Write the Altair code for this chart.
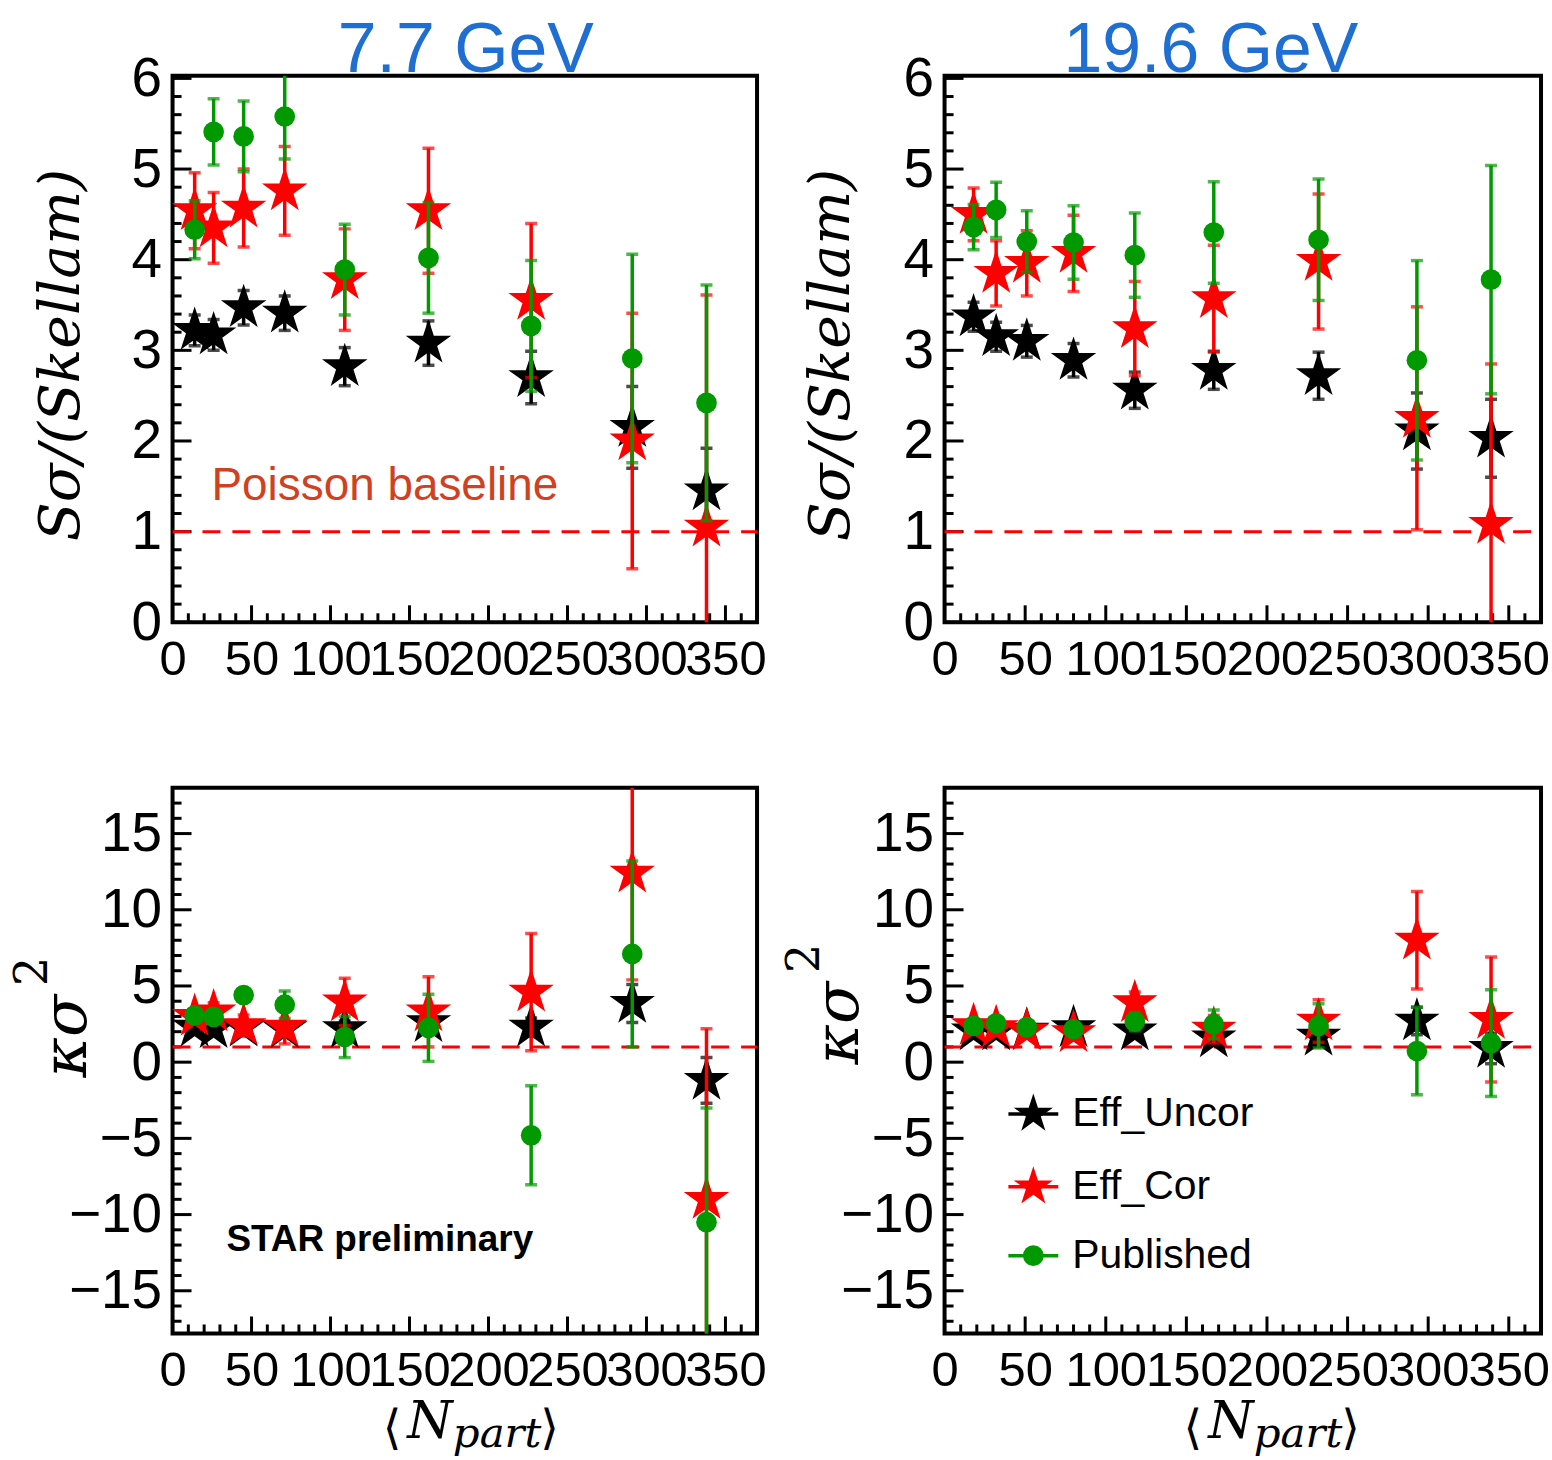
import altair as alt
import pandas as pd

# ---------------- data ----------------
series_names = ["Eff_Uncor", "Eff_Cor", "Published"]
series_colors = ["#000000", "#ff0000", "#009900"]

npart_77 = [14, 26, 45, 71, 109, 162, 227, 291, 338]
npart_196 = [18, 32, 51, 80, 118, 167, 232, 293, 339]

# S*sigma/Skellam, 7.7 GeV
s77_uncor = [3.22, 3.17, 3.47, 3.41, 2.82, 3.08, 2.70, 2.15, 1.45]
s77_uncor_err = [0.17, 0.17, 0.19, 0.19, 0.21, 0.245, 0.29, 0.45, 0.47]
s77_cor = [4.54, 4.35, 4.57, 4.76, 3.78, 4.54, 3.55, 2.00, 1.05]
s77_cor_err = [0.42, 0.39, 0.43, 0.49, 0.56, 0.69, 0.85, 1.41, 2.56]
s77_pub = [4.33, 5.41, 5.36, 5.58, 3.89, 4.02, 3.27, 2.91, 2.42]
s77_pub_err = [0.32, 0.365, 0.39, 0.47, 0.50, 0.61, 0.72, 1.15, 1.30]

# S*sigma/Skellam, 19.6 GeV
s196_uncor = [3.37, 3.15, 3.10, 2.89, 2.56, 2.78, 2.72, 2.11, 2.03]
s196_uncor_err = [0.16, 0.16, 0.175, 0.185, 0.20, 0.21, 0.26, 0.42, 0.43]
s196_cor = [4.50, 3.85, 3.96, 4.07, 3.24, 3.57, 3.98, 2.25, 1.08]
s196_cor_err = [0.29, 0.36, 0.36, 0.42, 0.52, 0.59, 0.745, 1.23, 1.77]
s196_pub = [4.36, 4.55, 4.20, 4.19, 4.05, 4.30, 4.22, 2.89, 3.78]
s196_pub_err = [0.25, 0.305, 0.34, 0.405, 0.465, 0.56, 0.67, 1.10, 1.26]

# kappa*sigma^2, 7.7 GeV
k77_uncor = [2.3, 2.2, 2.3, 2.2, 2.2, 2.6, 2.3, 3.85, -1.2]
k77_uncor_err = [0.3, 0.3, 0.35, 0.4, 0.5, 0.6, 0.6, 1.25, 1.5]
k77_cor = [3.0, 3.3, 2.4, 2.3, 3.95, 3.3, 4.6, 12.4, -9.0]
k77_cor_err = [0.5, 0.6, 0.7, 1.1, 1.55, 2.3, 3.85, 7.0, 11.2]
k77_pub = [3.07, 2.97, 4.4, 3.77, 1.65, 2.25, -4.8, 7.1, -10.5]
k77_pub_err = [0.3, 0.35, 0.4, 0.9, 1.35, 2.2, 3.25, 6.1, 7.5]

# kappa*sigma^2, 19.6 GeV
k196_uncor = [2.05, 2.05, 2.1, 2.27, 2.05, 1.6, 1.7, 2.7, 0.9]
k196_uncor_err = [0.2, 0.2, 0.25, 0.3, 0.4, 0.5, 0.6, 0.9, 1.0]
k196_cor = [2.4, 2.27, 2.05, 1.94, 3.9, 2.16, 2.7, 8.0, 2.8]
k196_cor_err = [0.3, 0.35, 0.4, 0.5, 0.7, 0.9, 1.4, 3.2, 4.1]
k196_pub = [2.38, 2.55, 2.3, 2.16, 2.66, 2.48, 2.38, 0.73, 1.25]
k196_pub_err = [0.3, 0.3, 0.35, 0.4, 0.6, 0.95, 1.45, 2.87, 3.5]

baseline_value = [1]

x_domain = [0, 370]
x_major = [0, 50, 100, 150, 200, 250, 300, 350]
x_minor = [v for v in range(0, 371, 10) if v % 50]
s_domain = [0, 6.03]
s_major = [0, 1, 2, 3, 4, 5, 6]
s_minor = [round(i * 0.2, 1) for i in range(31) if i % 5]
k_domain = [-17.8, 18.0]
k_major = [-15, -10, -5, 0, 5, 10, 15]
k_minor = [v for v in range(-17, 18) if v % 5]

STAR = ("M0,-1L0.2245,-0.309L0.9511,-0.309L0.3633,0.118L0.5878,0.809L0,0.382"
        "L-0.5878,0.809L-0.3633,0.118L-0.9511,-0.309L-0.2245,-0.309Z")

LABEL_FONT = "Liberation Sans"
MATH_FONT = "DejaVu Serif"
STAR_SIZE = 2300
DOT_SIZE = 430


def make_df(npart, triples):
    rows = []
    for name, vals, errs in triples:
        for n, v, e in zip(npart, vals, errs):
            rows.append({"series": name, "npart": n, "val": v, "lo": v - e, "hi": v + e})
    return pd.DataFrame(rows)


def txt(label, x, y, size, font=LABEL_FONT, color="black", align="center",
        baseline="alphabetic", angle=0, style="normal", weight="normal"):
    return alt.Chart(pd.DataFrame({"t": [label]})).mark_text(
        font=font, fontSize=size, color=color, align=align, baseline=baseline,
        angle=angle, fontStyle=style, fontWeight=weight
    ).encode(x=alt.value(x), y=alt.value(y), text="t:N")


def panel(df, ydom, ymaj, ymin, w, h, extra):
    xs = alt.Scale(domain=x_domain, nice=False, zero=False)
    ys = alt.Scale(domain=ydom, nice=False, zero=False)
    xaxis = alt.Axis(values=x_major, labelOverlap=False, labelFlush=False, labelPadding=13,
                     labelFontSize=49, title=None, ticks=False, domain=False, grid=False)
    yaxis = alt.Axis(values=ymaj, labelOverlap=False, labelFlush=False, labelPadding=11,
                     labelFontSize=55, title=None, ticks=False, domain=False, grid=False)

    def X(f):
        return alt.X(f, scale=xs, axis=xaxis)

    def Y(f):
        return alt.Y(f, scale=ys, axis=yaxis)

    layers = []

    def yrule(vals, length):
        return alt.Chart(pd.DataFrame({"v": vals})).mark_rule(color="black", strokeWidth=3).encode(
            y=Y("v:Q"), x=alt.value(0), x2=alt.value(length))

    def xrule(vals, length):
        return alt.Chart(pd.DataFrame({"v": vals})).mark_rule(color="black", strokeWidth=3).encode(
            x=X("v:Q"), y=alt.value(h), y2=alt.value(h - length))

    layers += [yrule(ymaj, 19), yrule(ymin, 9), xrule(x_major, 17), xrule(x_minor, 9)]

    layers.append(alt.Chart(pd.DataFrame({"v": baseline_value})).mark_rule(
        color="#ff0000", strokeWidth=3, strokeDash=[18, 12]).encode(
        y=Y("v:Q"), x=alt.value(0), x2=alt.value(w)))

    for name, color in zip(series_names, series_colors):
        base = alt.Chart(df[df.series == name])
        layers.append(base.mark_rule(color=color, strokeWidth=3.5, clip=True).encode(
            x=X("npart:Q"), y=Y("lo:Q"), y2="hi:Q"))
        for f in ["lo", "hi"]:
            layers.append(base.mark_tick(color=color, orient="horizontal", size=12,
                                         thickness=3.5, clip=True).encode(
                x=X("npart:Q"), y=Y(f + ":Q")))
        if name == "Published":
            mk = base.mark_point(shape="circle", size=DOT_SIZE, filled=True, opacity=1,
                                 color=color, strokeWidth=0)
        else:
            mk = base.mark_point(shape=STAR, size=STAR_SIZE, filled=True, opacity=1,
                                 color=color, strokeWidth=0)
        layers.append(mk.encode(x=X("npart:Q"), y=Y("val:Q")))

    layers += extra
    return alt.layer(*layers).properties(width=w, height=h)


df_s77 = make_df(npart_77, [(series_names[0], s77_uncor, s77_uncor_err),
                            (series_names[1], s77_cor, s77_cor_err),
                            (series_names[2], s77_pub, s77_pub_err)])
df_s196 = make_df(npart_196, [(series_names[0], s196_uncor, s196_uncor_err),
                              (series_names[1], s196_cor, s196_cor_err),
                              (series_names[2], s196_pub, s196_pub_err)])
df_k77 = make_df(npart_77, [(series_names[0], k77_uncor, k77_uncor_err),
                            (series_names[1], k77_cor, k77_cor_err),
                            (series_names[2], k77_pub, k77_pub_err)])
df_k196 = make_df(npart_196, [(series_names[0], k196_uncor, k196_uncor_err),
                              (series_names[1], k196_cor, k196_cor_err),
                              (series_names[2], k196_pub, k196_pub_err)])

WL, WR, HT, HB = 586, 598, 548, 547

anchor = alt.Chart(pd.DataFrame({"a": [0]})).mark_rule(opacity=0).encode(
    x=alt.value(-171), x2=alt.value(-170), y=alt.value(-72), y2=alt.value(-71))

BLUE = "#1f6fd2"


def xtitle(dx):
    return [
        txt("\u27e8", 220 + dx, 658, 48, font=MATH_FONT),
        txt("N", 258 + dx, 652, 52, font=MATH_FONT, style="italic"),
        txt("part", 281 + dx, 661, 42, font=MATH_FONT, style="italic", align="left"),
        txt("\u27e9", 378 + dx, 658, 48, font=MATH_FONT),
    ]


tl_extra = [
    anchor,
    txt("7.7 GeV", 294, -4, 70, color=BLUE),
    txt("S\u03c3/(Skellam)", -111, 280, 57, font=MATH_FONT, style="italic",
        angle=270, baseline="middle"),
    txt("Poisson baseline", 39, 425, 46, color="#d0421f", align="left"),
]
tr_extra = [
    txt("19.6 GeV", 267, -4, 70, color=BLUE),
    txt("S\u03c3/(Skellam)", -113, 280, 57, font=MATH_FONT, style="italic",
        angle=270, baseline="middle"),
]
bl_extra = [
    txt("\u03ba\u03c3", -106, 249, 62, font=MATH_FONT, style="italic", angle=270, baseline="middle"),
    txt("2", -140, 184, 46, font=MATH_FONT, angle=270, baseline="middle"),
    txt("STAR preliminary", 54, 464, 37, weight="bold", align="left"),
] + xtitle(0)

legend_rows = [327, 400, 469]
br_extra = [
    txt("\u03ba\u03c3", -106, 236, 62, font=MATH_FONT, style="italic", angle=270, baseline="middle"),
    txt("2", -140, 171, 46, font=MATH_FONT, angle=270, baseline="middle"),
] + xtitle(29)
for name, color, ly in zip(series_names, series_colors, legend_rows):
    ldf = pd.DataFrame({"t": [name]})
    br_extra.append(alt.Chart(ldf).mark_rule(color=color, strokeWidth=3.5).encode(
        x=alt.value(64), x2=alt.value(114), y=alt.value(ly)))
    if name == "Published":
        br_extra.append(alt.Chart(ldf).mark_point(shape="circle", size=DOT_SIZE, filled=True, opacity=1,
                                                  color=color, strokeWidth=0).encode(
            x=alt.value(89), y=alt.value(ly)))
    else:
        br_extra.append(alt.Chart(ldf).mark_point(shape=STAR, size=1700, filled=True, opacity=1,
                                                  color=color, strokeWidth=0).encode(
            x=alt.value(89), y=alt.value(ly)))
    br_extra.append(alt.Chart(ldf).mark_text(font=LABEL_FONT, fontSize=41, align="left",
                                             baseline="middle", color="black").encode(
        x=alt.value(128), y=alt.value(ly), text="t:N"))

tl = panel(df_s77, s_domain, s_major, s_minor, WL, HT, tl_extra)
tr = panel(df_s196, s_domain, s_major, s_minor, WR, HT, tr_extra)
bl = panel(df_k77, k_domain, k_major, k_minor, WL, HB, bl_extra)
br = panel(df_k196, k_domain, k_major, k_minor, WR, HB, br_extra)

chart = alt.concat(
    tl, tr, bl, br, columns=2,
    spacing=alt.RowColnumber(row=166, column=188),
    bounds="flush", align="each"
).properties(
    padding=0, background="white"
).configure_view(
    stroke="black", strokeWidth=4
).configure_axis(
    labelFont=LABEL_FONT, labelColor="black", tickSize=0
)

chart.save("out.html", embed_options={"renderer": "svg", "actions": False})
